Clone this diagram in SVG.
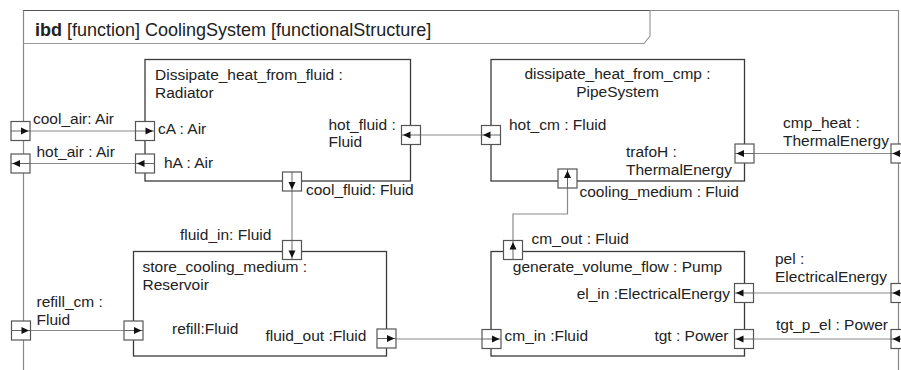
<svg xmlns="http://www.w3.org/2000/svg" width="901" height="370" viewBox="0 0 901 370">
<style>
text{font-family:"Liberation Sans",Arial,sans-serif;font-size:15.5px;fill:#222}
.hdr{font-size:18px}
.blk{fill:none;stroke:#3a3a3a;stroke-width:1.3}
.frm{fill:none;stroke:#888;stroke-width:1.2}
.con{fill:none;stroke:#8a8a8a;stroke-width:1.2}
.pb{fill:#fff;stroke:#555;stroke-width:1.2}
.pl{stroke:#666;stroke-width:1}
.ph{fill:#111}
.mid{text-anchor:middle}
.end{text-anchor:end}
</style>
<defs>
<g id="pR"><rect class="pb" x="-9.5" y="-9.5" width="19" height="19"/><line class="pl" x1="-9.5" y1="0" x2="9.5" y2="0"/><path class="ph" d="M0.5,-3.5L8,0L0.5,3.5Z"/></g>
<g id="pL"><rect class="pb" x="-9.5" y="-9.5" width="19" height="19"/><line class="pl" x1="-9.5" y1="0" x2="9.5" y2="0"/><path class="ph" d="M-0.5,-3.5L-8,0L-0.5,3.5Z"/></g>
<g id="pD"><rect class="pb" x="-9.5" y="-9.5" width="19" height="19"/><line class="pl" x1="0" y1="-9.5" x2="0" y2="9.5"/><path class="ph" d="M-3.5,0.5L0,8L3.5,0.5Z"/></g>
<g id="pU"><rect class="pb" x="-9.5" y="-9.5" width="19" height="19"/><line class="pl" x1="0" y1="-9.5" x2="0" y2="9.5"/><path class="ph" d="M-3.5,-0.5L0,-8L3.5,-0.5Z"/></g>
</defs>
<rect width="901" height="370" fill="#fff"/>
<g id="frame">
<path class="frm" d="M23.5,370V10.5H898.5V370"/>
<path fill="none" stroke="#555" stroke-width="1.2" d="M23.5,10.5H650"/>
<path fill="none" stroke="#999" stroke-width="1.2" d="M23.5,43.5H644L650,36V10.5"/>
<text class="hdr" x="35" y="35.5"><tspan font-weight="bold">ibd</tspan> [function] CoolingSystem [functionalStructure]</text>
</g>
<g id="connectors">
<line class="con" x1="30" y1="131" x2="136" y2="131"/>
<line class="con" x1="30" y1="163.5" x2="136" y2="163.5"/>
<line class="con" x1="420.5" y1="135" x2="482" y2="135"/>
<line class="con" x1="754" y1="153.5" x2="891" y2="153.5"/>
<line class="con" x1="292" y1="191" x2="292" y2="241"/>
<path class="con" d="M567.5,188V214H513V241"/>
<line class="con" x1="31" y1="330.5" x2="124" y2="330.5"/>
<line class="con" x1="396" y1="339" x2="482" y2="339"/>
<line class="con" x1="753.5" y1="293" x2="891" y2="293"/>
<line class="con" x1="753.5" y1="339" x2="891" y2="339"/>
</g>
<g id="boundary_ports">
<use href="#pR" x="20.5" y="131"/>
<text x="33" y="123.5">cool_air: Air</text>
<use href="#pL" x="20.5" y="163.5"/>
<text x="36.5" y="156.5">hot_air : Air</text>
<use href="#pR" x="21" y="330.5"/>
<text x="36.5" y="307">refill_cm :</text>
<text x="36.5" y="325">Fluid</text>
<use href="#pL" x="900.5" y="153.5"/>
<text x="783" y="128">cmp_heat :</text>
<text x="783" y="145.5">ThermalEnergy</text>
<use href="#pL" x="900.5" y="293"/>
<text x="775" y="263.5">pel :</text>
<text x="775" y="281.5">ElectricalEnergy</text>
<use href="#pL" x="900.5" y="339"/>
<text x="776" y="329.5">tgt_p_el : Power</text>
</g>
<g id="radiator">
<rect class="blk" x="145" y="59.5" width="265.5" height="121.5"/>
<text x="155" y="80">Dissipate_heat_from_fluid :</text>
<text x="155" y="97.5">Radiator</text>
<use href="#pR" x="145" y="131"/>
<text x="158" y="134">cA : Air</text>
<use href="#pL" x="145" y="163.5"/>
<text x="164" y="167.5">hA : Air</text>
<use href="#pL" x="411" y="135"/>
<text x="328.5" y="130">hot_fluid :</text>
<text x="328.5" y="147">Fluid</text>
<use href="#pD" x="292" y="181.5"/>
<text x="306" y="194.5">cool_fluid: Fluid</text>
</g>
<g id="pipesystem">
<rect class="blk" x="491" y="59.5" width="253.5" height="121.5"/>
<text class="mid" x="617.5" y="79">dissipate_heat_from_cmp :</text>
<text class="mid" x="617.5" y="97">PipeSystem</text>
<use href="#pL" x="491" y="135"/>
<text x="509" y="129.5">hot_cm : Fluid</text>
<use href="#pL" x="744.5" y="153.5"/>
<text x="626" y="157">trafoH :</text>
<text x="626" y="174.5">ThermalEnergy</text>
<use href="#pU" x="567.5" y="178.5"/>
<text x="579.5" y="197">cooling_medium : Fluid</text>
</g>
<g id="reservoir">
<rect class="blk" x="133.5" y="251.5" width="253" height="104.5"/>
<use href="#pD" x="292" y="250"/>
<text x="180" y="240">fluid_in: Fluid</text>
<text x="142.5" y="272">store_cooling_medium :</text>
<text x="142.5" y="290">Reservoir</text>
<use href="#pR" x="133.5" y="330.5"/>
<text x="172" y="334">refill:Fluid</text>
<use href="#pR" x="386.5" y="338.5"/>
<text x="265.5" y="341">fluid_out :Fluid</text>
</g>
<g id="pump">
<rect class="blk" x="491" y="251.5" width="253.5" height="104.5"/>
<use href="#pU" x="513" y="250"/>
<text x="531.5" y="243.5">cm_out : Fluid</text>
<text class="mid" x="617.5" y="272">generate_volume_flow : Pump</text>
<use href="#pL" x="744" y="293"/>
<text class="end" x="730" y="298.5">el_in :ElectricalEnergy</text>
<use href="#pR" x="491.5" y="339"/>
<text x="504.5" y="340.5">cm_in :Fluid</text>
<use href="#pL" x="744" y="339"/>
<text class="end" x="728.5" y="340.5">tgt : Power</text>
</g>
</svg>
